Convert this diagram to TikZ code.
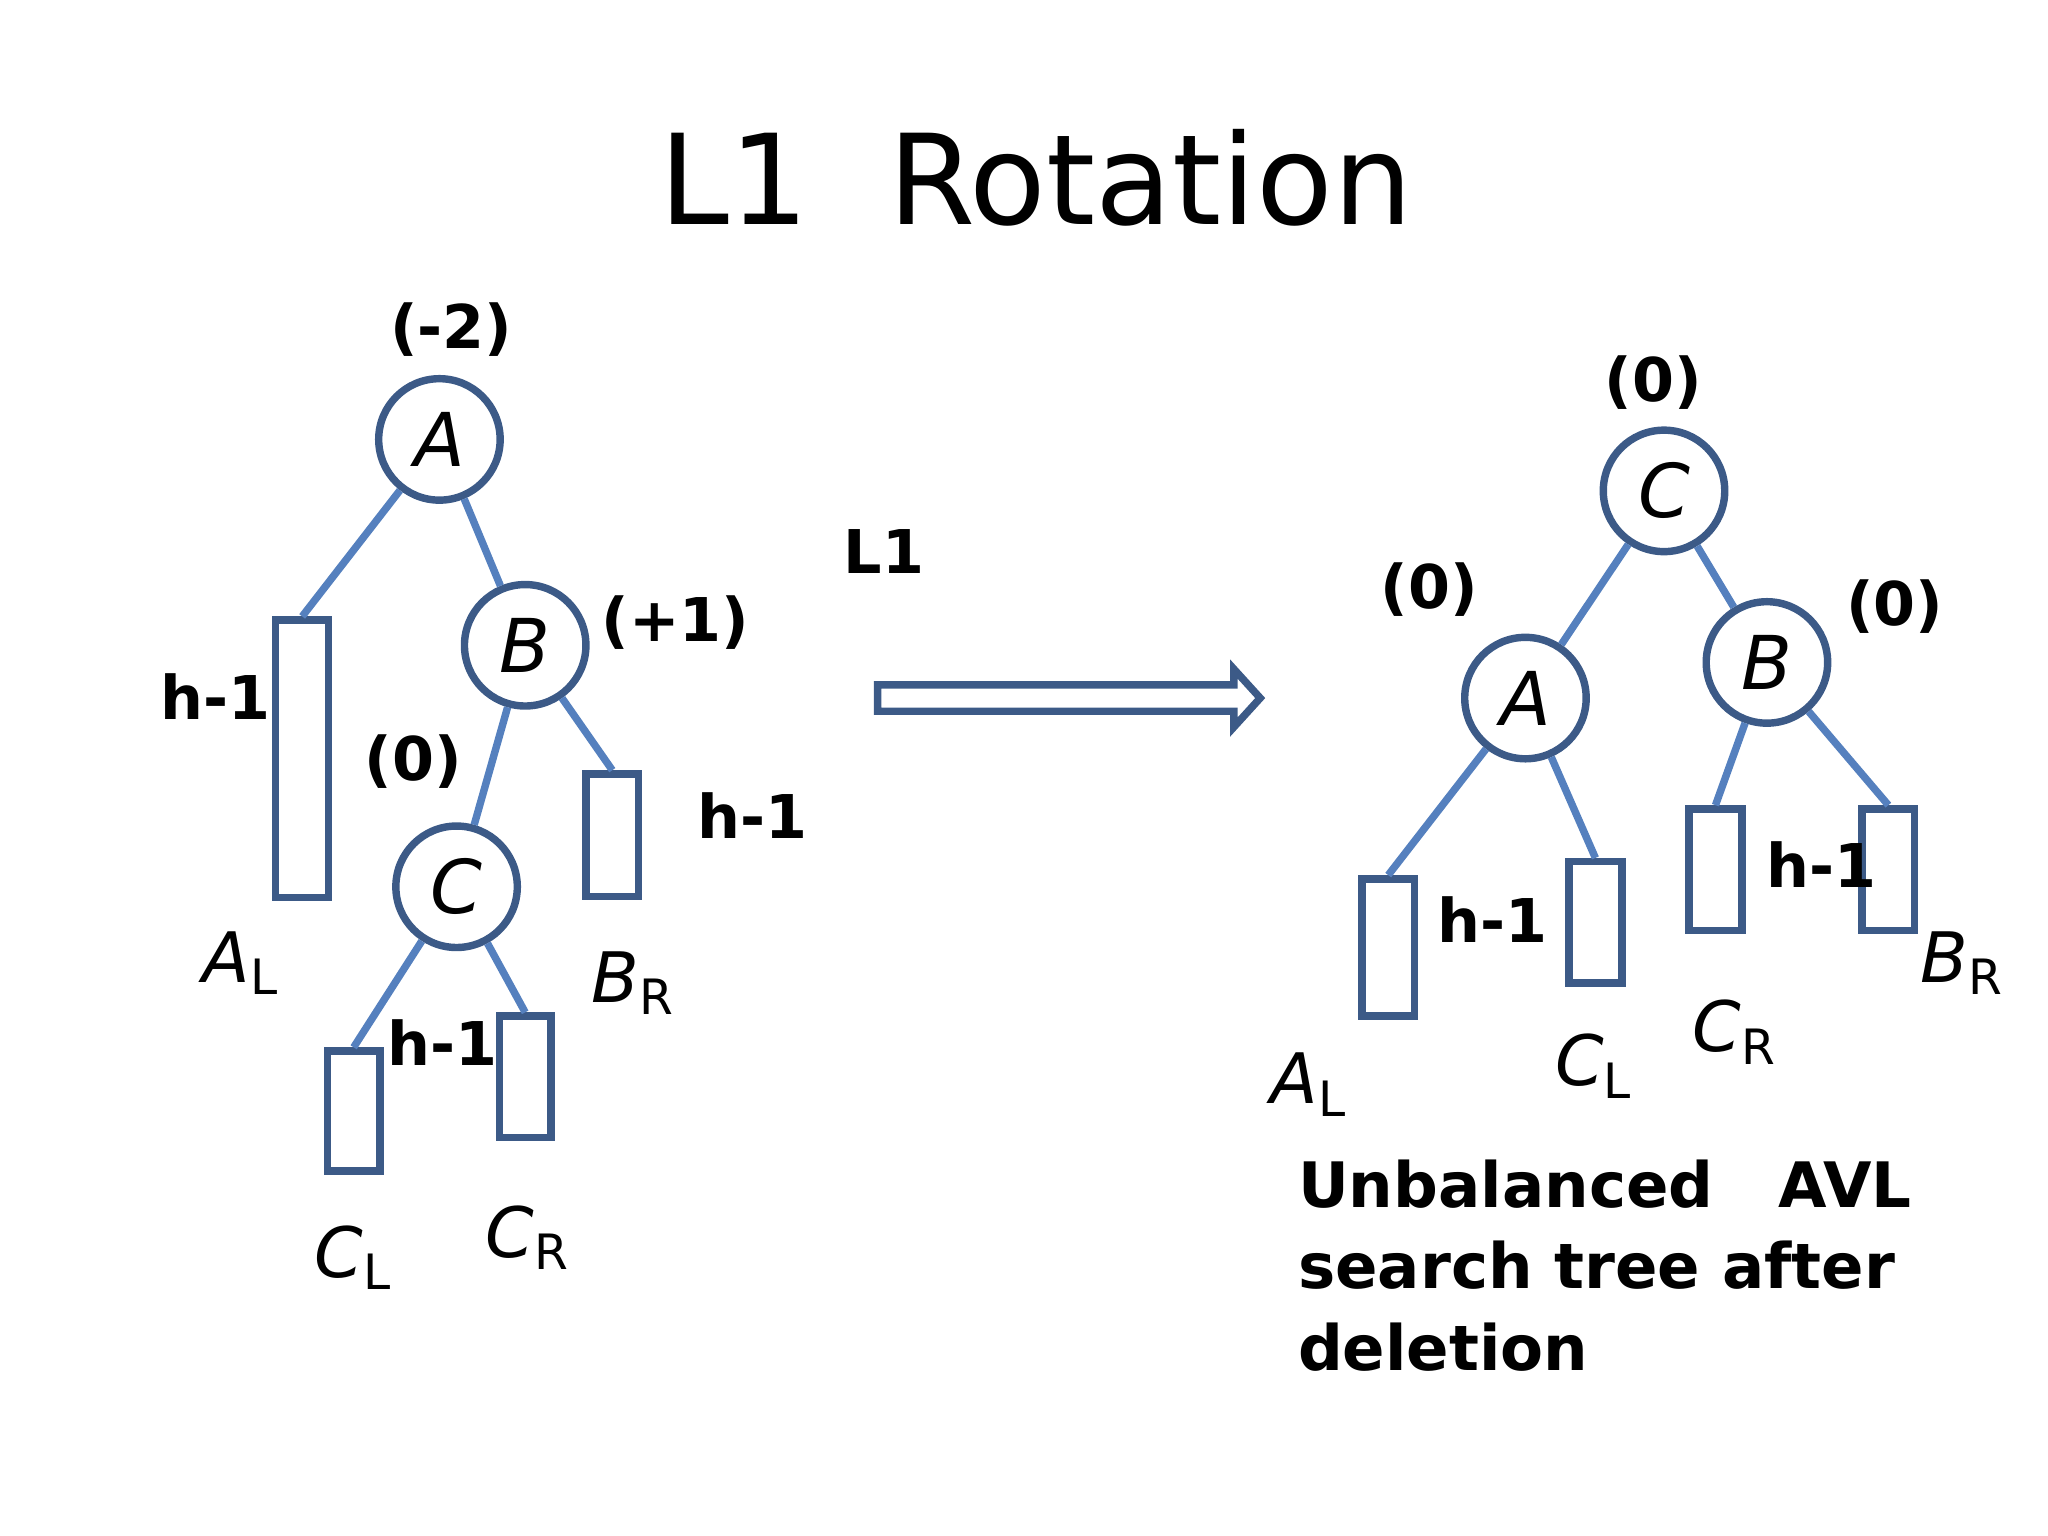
\documentclass[tikz,border=0pt]{standalone}
\usepackage{fontspec}
\setmainfont{DejaVu Sans}
\definecolor{cst}{RGB}{60,90,135}
\definecolor{est}{RGB}{85,128,190}
\begin{document}
\begin{tikzpicture}[x=0.01cm,y=-0.01cm,
  circ/.style={circle,draw=cst,line width=1.6pt,inner sep=0pt,minimum size=0.92cm,font=\fontsize{16}{18}\selectfont},
  box/.style={draw=cst,line width=1.6pt,fill=white,inner sep=0pt,minimum width=0.4cm},
  edge/.style={draw=est,line width=1.6pt},
  lab/.style={font=\fontsize{13}{15}\selectfont\bfseries},
  sub/.style={font=\fontsize{15}{16}\selectfont}]
\useasboundingbox (0,0) rectangle (1552,1164);
\node[font=\fontsize{27}{30}\selectfont] (title) at (785,135) {L1\ \ Rotation};
% left tree
\node[circ] (A) at (333,333) {\textit{A}};
\node[circ] (B) at (398,489) {\textit{B}};
\node[circ] (C) at (346,672) {\textit{C}};
\node[box,minimum height=2.1cm] (AL) at (229,575) {};
\node[box,minimum height=0.93cm] (BR) at (464,633) {};
\node[box,minimum height=0.91cm] (CL) at (268,842) {};
\node[box,minimum width=0.39cm,minimum height=0.92cm] (CR) at (398,816) {};
\draw[edge] (A) -- (AL.north);
\draw[edge] (A) -- (B);
\draw[edge] (B) -- (C);
\draw[edge] (B) -- (BR.north);
\draw[edge] (C) -- (CL.north);
\draw[edge] (C) -- (CR.north);
\node[lab] (l1) at (342,250) {(-2)};
\node[lab] (l2) at (512,472) {(+1)};
\node[lab] (l3) at (313,577) {(0)};
\node[lab] (h1) at (163,528) {h-1};
\node[lab] (h2) at (570,618) {h-1};
\node[lab] (h3) at (335,790) {h-1};
\node[sub] (tAL) at (183,730) {\textit{A}\textsubscript{L}};
\node[sub] (tBR) at (480,745) {\textit{B}\textsubscript{R}};
\node[sub] (tCL) at (268,953) {\textit{C}\textsubscript{L}};
\node[sub] (tCR) at (400,938) {\textit{C}\textsubscript{R}};
% arrow
\node[lab] (L1) at (670,418) {L1};
\draw[draw=cst,line width=1.6pt] (665,519) -- (935,519) -- (935,507) -- (955,529) -- (935,551) -- (935,539) -- (665,539) -- cycle;
% right tree
\node[circ] (C2) at (1261,372) {\textit{C}};
\node[circ] (A2) at (1156,529) {\textit{A}};
\node[circ] (B2) at (1339,502) {\textit{B}};
\node[box,minimum height=1.04cm] (AL2) at (1052,718) {};
\node[box,minimum height=0.92cm] (CL2) at (1209,699) {};
\node[box,minimum height=0.92cm] (CR2) at (1300,659) {};
\node[box,minimum height=0.92cm] (BR2) at (1431,659) {};
\draw[edge] (C2) -- (A2);
\draw[edge] (C2) -- (B2);
\draw[edge] (A2) -- (AL2.north);
\draw[edge] (A2) -- (CL2.north);
\draw[edge] (B2) -- (CR2.north);
\draw[edge] (B2) -- (BR2.north);
\node[lab] (r1) at (1253,290) {(0)};
\node[lab] (r2) at (1083,447) {(0)};
\node[lab] (r3) at (1436,460) {(0)};
\node[lab] (rh1) at (1131,697) {h-1};
\node[lab] (rh2) at (1380,655) {h-1};
\node[sub] (rAL) at (992,822) {\textit{A}\textsubscript{L}};
\node[sub] (rCL) at (1208,808) {\textit{C}\textsubscript{L}};
\node[sub] (rCR) at (1315,782) {\textit{C}\textsubscript{R}};
\node[sub] (rBR) at (1487,730) {\textit{B}\textsubscript{R}};
\node[anchor=north west,align=left,inner sep=0pt,font=\fontsize{13.5}{17.6}\selectfont\bfseries] (txt) at (983,878) {Unbalanced\ \ \ AVL\\search tree after\\deletion};
\end{tikzpicture}
\end{document}
